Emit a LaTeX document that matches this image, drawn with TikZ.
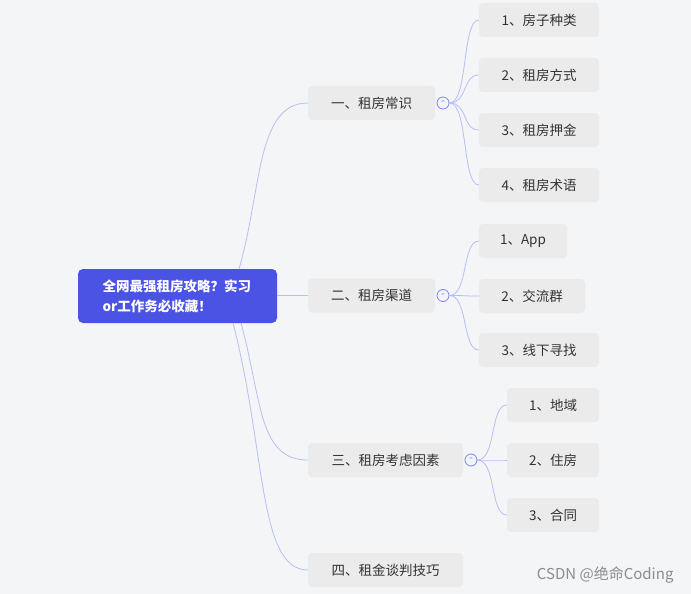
\documentclass[tikz,border=0pt]{standalone}
\usepackage{fontspec}
\usepackage{tikz}
\usetikzlibrary{calc}
\newfontfamily\cjk{Noto Sans CJK SC}
\definecolor{bgcol}{HTML}{F4F5F7}
\definecolor{rootcol}{HTML}{4B53E5}
\definecolor{boxcol}{HTML}{EBEBEB}
\definecolor{txtcol}{HTML}{333333}
\definecolor{linkcol}{HTML}{B9BDF6}
\definecolor{dotcol}{HTML}{7F86EE}

\begin{document}
\begin{tikzpicture}[x=1pt,y=-1pt,
		box/.style={fill=boxcol,rounded corners=4pt,inner sep=0pt,minimum height=34pt,
			text=txtcol,font=\cjk\fontsize{13.5}{16}\selectfont},
		link/.style={draw=linkcol,line width=0.8pt},
		fold/.style={circle,draw=dotcol,fill=bgcol,line width=0.8pt,inner sep=0pt,minimum size=12pt,
			text=dotcol,font=\cjk\fontsize{11}{11}\selectfont}]
	% background and frame
	\fill[bgcol] (0,0) rectangle (691,594);
	\useasboundingbox (0,0) rectangle (691,594);
	
	% root
	\node[fill=rootcol,rounded corners=5pt,minimum width=199pt,minimum height=54pt,inner sep=0pt] (root) at (177.5,296) {};
	\node[anchor=west,text=white,align=left,font=\cjk\bfseries\fontsize{13.5}{20}\selectfont] (roottxt) at (99,296)
		{全网最强租房攻略？实习\\or工作务必收藏！};
	
	% main branches
	\node[box,minimum width=127pt] (n1) at (371.5,103) {一、租房常识};
	\node[box,minimum width=127pt] (n2) at (371.5,295.5) {二、租房渠道};
	\node[box,minimum width=155pt] (n3) at (385.5,460) {三、租房考虑因素};
	\node[box,minimum width=155pt] (n4) at (385.5,570) {四、租金谈判技巧};
	
	\coordinate (r1) at (239,269);
	\coordinate (r3) at (241,323);
	\coordinate (r4) at (233,323);
	\draw[link] (r1) .. controls (262,190) and (256,103) .. (n1.west);
	\draw[link] (root.east |- n2) -- (n2.west);
	\draw[link] (r3) .. controls (262,400) and (258,460) .. (n3.west);
	\draw[link] (r4) .. controls (266,450) and (258,570) .. (n4.west);
	
	% leaves of branch one
	\node[box,minimum width=120pt] (a1) at (539,20) {1、房子种类};
	\node[box,minimum width=120pt] (a2) at (539,75) {2、租房方式};
	\node[box,minimum width=120pt] (a3) at (539,130) {3、租房押金};
	\node[box,minimum width=120pt] (a4) at (539,185) {4、租房术语};
	
	% leaves of branch two
	\node[box,minimum width=88pt] (b1) at (523,241) {1、App};
	\node[box,minimum width=106pt] (b2) at (532,296) {2、交流群};
	\node[box,minimum width=120pt] (b3) at (539,350) {3、线下寻找};
	
	% leaves of branch three
	\node[box,minimum width=92pt] (c1) at (553,405) {1、地域};
	\node[box,minimum width=92pt] (c2) at (553,460) {2、住房};
	\node[box,minimum width=92pt] (c3) at (553,515) {3、合同};
	
	% fold markers
	\node[fold] (f1) at (443,103) {-};
	\node[fold] (f2) at (443,295.5) {-};
	\node[fold] (f3) at (471,460) {-};
	
	\foreach \leaf in {a1,a2,a3,a4}
		\draw[link] (f1.east) .. controls ([xshift=19pt]f1.east) and ([xshift=-17pt]\leaf.west) .. (\leaf.west);
	\foreach \leaf in {b1,b2,b3}
		\draw[link] (f2.east) .. controls ([xshift=19pt]f2.east) and ([xshift=-17pt]\leaf.west) .. (\leaf.west);
	\foreach \leaf in {c1,c2,c3}
		\draw[link] (f3.east) .. controls ([xshift=19pt]f3.east) and ([xshift=-17pt]\leaf.west) .. (\leaf.west);
	
	% watermark
	\node[anchor=east,text=black!45,font=\cjk\fontsize{15}{17}\selectfont] (mark) at (677,575) {CSDN @绝命Coding};
\end{tikzpicture}
\end{document}
